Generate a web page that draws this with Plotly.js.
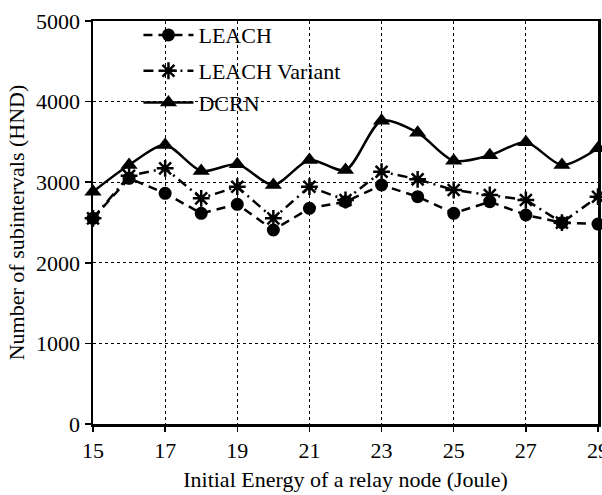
<!DOCTYPE html>
<html>
<head>
<meta charset="utf-8">
<script src="https://cdn.plot.ly/plotly-3.0.1.min.js"></script>
<style>html,body{margin:0;padding:0;background:#fff;}#chart{width:602px;height:495px;}</style>
</head>
<body>
<div id="chart"></div>
<script>
const energy = [15,16,17,18,19,20,21,22,23,24,25,26,27,28,29];
const leach = [2552,3048,2862,2614,2726,2407,2676,2758,2965,2820,2614,2758,2593,2498,2481];
const leachVariant = [2552,3080,3172,2800,2944,2552,2944,2779,3130,3036,2903,2841,2779,2498,2820];
const dcrn = [2882,3213,3461,3139,3222,2965,3275,3150,3763,3614,3265,3333,3495,3213,3420];
const seriesNames = ["LEACH","LEACH Variant","DCRN"];
const xTickVals = [15,17,19,21,23,25,27,29];
const yTickVals = [0,1000,2000,3000,4000,5000];

const FONT = "Liberation Serif";

const traces = [
  {x: energy, y: leach, name: seriesNames[0], mode: 'lines+markers', type: 'scatter',
   line: {color: '#000', width: 2.5, dash: '9px,6px'},
   marker: {symbol: 'circle', size: 13, color: '#000'}, cliponaxis: false, legend: 'legend'},
  {x: energy, y: leachVariant, name: seriesNames[1], mode: 'lines+markers', type: 'scatter',
   line: {color: '#000', width: 2.5, dash: '10px,5px,2px,5px'},
   marker: {symbol: 'asterisk-open', size: 14, color: '#000', line: {color: '#000', width: 2.5}}, cliponaxis: false, legend: 'legend2'},
  {x: energy, y: dcrn, name: seriesNames[2], mode: 'lines+markers', type: 'scatter',
   line: {color: '#000', width: 2.5, shape: 'spline', smoothing: 0.8},
   marker: {symbol: 'triangle-up', size: 15, color: '#000'}, cliponaxis: false, legend: 'legend3'}
];

const legendBase = {x: 0.09, xanchor: 'left', yanchor: 'middle', bgcolor: 'rgba(0,0,0,0)',
  font: {family: FONT, size: 22, color: '#000'}, itemwidth: 50, borderwidth: 0};

const layout = {
  width: 602, height: 495,
  margin: {l: 93, r: 4, t: 21, b: 71},
  paper_bgcolor: '#fff', plot_bgcolor: '#fff',
  font: {family: FONT, size: 22, color: '#000'},
  showlegend: true,
  legend: Object.assign({}, legendBase, {y: 0.965}),
  legend2: Object.assign({}, legendBase, {y: 0.876}),
  legend3: Object.assign({}, legendBase, {y: 0.797}),
  xaxis: {
    range: [15, 29], tickvals: xTickVals, ticktext: xTickVals.map(String),
    showline: true, linecolor: '#000', linewidth: 2.5, mirror: true,
    ticks: 'outside', ticklen: 5, tickwidth: 1.5, tickcolor: '#000',
    showgrid: true, gridcolor: '#000', gridwidth: 1, griddash: 'dot',
    zeroline: false, ticklabeloverflow: 'allow',
    tickfont: {family: FONT, size: 22, color: '#000'},
    title: {text: 'Initial Energy of a relay node (Joule)', font: {family: FONT, size: 22, color: '#000'}, standoff: 10}
  },
  yaxis: {
    range: [0, 5000], tickvals: yTickVals, ticktext: yTickVals.map(String),
    showline: true, linecolor: '#000', linewidth: 2.5, mirror: true,
    ticks: 'outside', ticklen: 6, tickwidth: 1.5, tickcolor: '#000',
    showgrid: true, gridcolor: '#000', gridwidth: 1, griddash: 'dot',
    zeroline: false, ticklabeloverflow: 'allow',
    tickfont: {family: FONT, size: 22, color: '#000'},
    title: {text: 'Number of subintervals (HND)', font: {family: FONT, size: 22, color: '#000'}, standoff: 6}
  }
};

Plotly.newPlot('chart', traces, layout, {displayModeBar: false, staticPlot: true});
</script>
</body>
</html>
